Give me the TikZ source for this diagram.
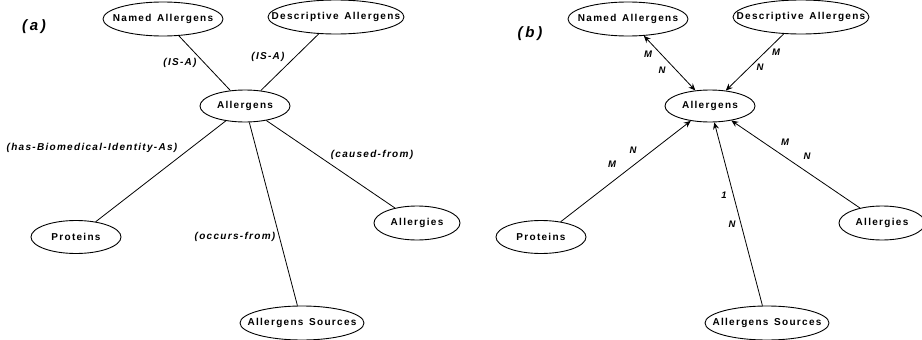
\documentclass[tikz,border=0pt]{standalone}
\usepackage{fontspec}
\setmainfont{Liberation Sans}
\newfontfamily\lblfont[LetterSpace=13, WordSpace=1.4]{Liberation Sans}
\newfontfamily\panelfont[LetterSpace=18]{Liberation Sans}
\usetikzlibrary{shapes.geometric, arrows.meta}

% keep text from widening the ellipse
\newcommand{\ctext}[1]{\makebox[0pt][c]{#1}}

\tikzset{
  concept/.style={draw, ellipse, line width=0.9pt, inner sep=0pt,
    font=\lblfont\bfseries\fontsize{10}{11}\selectfont},
  rel/.style={font=\lblfont\bfseries\itshape\fontsize{10}{11}\selectfont},
  card/.style={font=\bfseries\itshape\fontsize{9.5}{10}\selectfont},
  panel/.style={font=\panelfont\bfseries\itshape\fontsize{15}{17}\selectfont},
  link/.style={line width=0.8pt},
  arr/.style={link, -{Stealth[length=7pt,width=6pt,inset=2.5pt]}},
  biarr/.style={link, {Stealth[length=7pt,width=6pt,inset=2.5pt]}-{Stealth[length=7pt,width=6pt,inset=2.5pt]}},
}

\begin{document}
\begin{tikzpicture}[x=1pt, y=-1pt]
  \useasboundingbox (0,0) rectangle (922,340);

  % (a) relation names
  \node[panel] (pa) at (34,27) {(a)};
  \node[concept, minimum width=120pt, minimum height=34pt] (named) at (163,19) {\ctext{Named Allergens}};
  \node[concept, minimum width=136pt, minimum height=34pt] (descr) at (336,17) {\ctext{Descriptive Allergens}};
  \node[concept, minimum width=90pt, minimum height=32pt] (allergens) at (245,106) {\ctext{Allergens}};
  \node[concept, minimum width=90pt, minimum height=33pt] (proteins) at (76,237) {\ctext{Proteins}};
  \node[concept, minimum width=86pt, minimum height=34pt] (allergies) at (417,223) {\ctext{Allergies}};
  \node[concept, minimum width=124pt, minimum height=34pt] (sources) at (302,323) {\ctext{Allergens Sources}};

  \draw[link] (named) -- (allergens);
  \draw[link] (descr) -- (allergens);
  \draw[link] (allergens) -- (proteins);
  \draw[link] (allergens) -- (sources);
  \draw[link] (allergens) -- (allergies);

  \node[rel] (isa1) at (180,63) {(IS-A)};
  \node[rel] (isa2) at (268,57) {(IS-A)};
  \node[rel] (hbia) at (92,148) {(has-Biomedical-Identity-As)};
  \node[rel] (cfrom) at (372,155) {(caused-from)};
  \node[rel] (ofrom) at (235,237) {(occurs-from)};

  % (b) cardinalities
  \node[panel] (pb) at (530,34) {(b)};
  \node[concept, minimum width=120pt, minimum height=34pt] (bnamed) at (628,19) {\ctext{Named Allergens}};
  \node[concept, minimum width=136pt, minimum height=34pt] (bdescr) at (801,17) {\ctext{Descriptive Allergens}};
  \node[concept, minimum width=90pt, minimum height=32pt] (ballergens) at (710,106) {\ctext{Allergens}};
  \node[concept, minimum width=90pt, minimum height=33pt] (bproteins) at (541,237) {\ctext{Proteins}};
  \node[concept, minimum width=86pt, minimum height=34pt] (ballergies) at (882,223) {\ctext{Allergies}};
  \node[concept, minimum width=124pt, minimum height=34pt] (bsources) at (767,323) {\ctext{Allergens Sources}};

  \draw[biarr] (bnamed) -- (ballergens);
  \draw[arr] (bdescr) -- (ballergens);
  \draw[arr] (bproteins) -- (ballergens);
  \draw[arr] (bsources) -- (ballergens);
  \draw[arr] (ballergies) -- (ballergens);

  \node[card] (c1) at (648,54) {M};
  \node[card] (c2) at (662,70) {N};
  \node[card] (c3) at (776,52) {M};
  \node[card] (c4) at (760,67) {N};
  \node[card] (c5) at (633,150) {N};
  \node[card] (c6) at (612,164) {M};
  \node[card] (c7) at (785,142) {M};
  \node[card] (c8) at (807,156) {N};
  \node[card] (c9) at (724,195) {1};
  \node[card] (c10) at (732,224) {N};
\end{tikzpicture}
\end{document}
